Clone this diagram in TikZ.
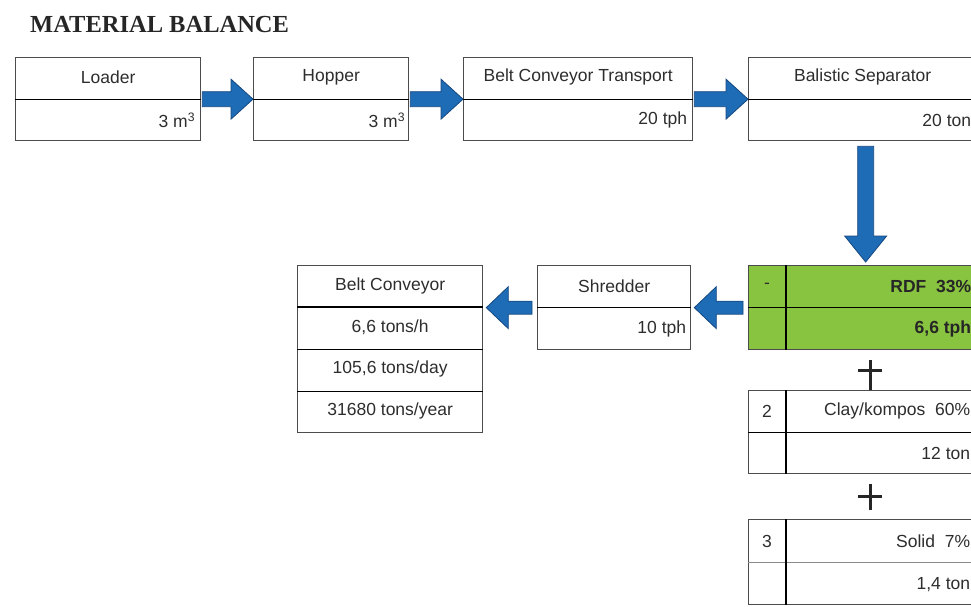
\documentclass[tikz,border=0pt]{standalone}
\usepackage{fontspec}
\setmainfont{Liberation Sans}
\newfontfamily\titlefont{Liberation Serif}
\usetikzlibrary{calc}
\definecolor{arrowblue}{RGB}{30,108,182}
\definecolor{arrowdark}{RGB}{22,72,128}
\definecolor{rdfgreen}{RGB}{137,196,64}
\definecolor{txt}{RGB}{45,45,45}
\tikzset{
  box/.style={draw=black!70, line width=1.3pt, rectangle, inner sep=0pt, anchor=north west},
  midline/.style={draw=black, line width=1.3pt},
  thinline/.style={draw=black!45, line width=0.7pt},
  lbl/.style={font=\fontsize{17.5}{20}\selectfont, text=txt, inner sep=0pt},
  blbl/.style={font=\fontsize{17.5}{20}\selectfont\bfseries, text=black!85, inner sep=0pt},
  barrow/.style={fill=arrowblue, draw=arrowdark, line width=0.8pt},
  plusline/.style={draw=black!85, line width=3pt}
}
\begin{document}
\begin{tikzpicture}[x=1pt,y=-1pt]
\useasboundingbox (0,0) rectangle (971,606);
% title
\node[anchor=base west, inner sep=0pt, font=\titlefont\fontsize{24.5}{28}\selectfont\bfseries, text=black!85] (title) at (30,32) {MATERIAL BALANCE};

% row 1 boxes
\node[box, minimum width=185, minimum height=83] (loader) at (15,57) {};
\node[box, minimum width=155, minimum height=83] (hopper) at (253,57) {};
\node[box, minimum width=229, minimum height=83] (belt) at (463,57) {};
\node[box, minimum width=228, minimum height=83] (sep) at (748,57) {};
\foreach \b in {loader,hopper,belt,sep} {\draw[midline] (\b.west) -- (\b.east);}
\node[lbl] (loaderT) at ([yshift=-20]loader.north) {Loader};
\node[lbl, anchor=east] (loaderV) at ([xshift=-6,yshift=21]loader.south east) {3 m\textsuperscript{3}};
\node[lbl] (hopperT) at ([yshift=-20]hopper.north) {Hopper};
\node[lbl, anchor=east] (hopperV) at ([xshift=-4,yshift=21]hopper.south east) {3 m\textsuperscript{3}};
\node[lbl] (beltT) at ([yshift=-20]belt.north) {Belt Conveyor Transport};
\node[lbl, anchor=east] (beltV) at ([xshift=-6,yshift=21]belt.south east) {20 tph};
\node[lbl] (sepT) at ([yshift=-20]sep.north) {Balistic Separator};
\node[lbl, anchor=east] (sepV) at ([xshift=-6,yshift=21]sep.south east) {20 ton};

% right arrows
\foreach \a/\b in {loader/hopper,hopper/belt,belt/sep} {
  \path[barrow] ($(\a.east)+(1,-7.5)$) -- ($(\b.west)+(-22,-7.5)$) -- ($(\b.west)+(-22,-20)$) -- (\b.west)
    -- ($(\b.west)+(-22,20)$) -- ($(\b.west)+(-22,7.5)$) -- ($(\a.east)+(1,7.5)$) -- cycle;
}

% row 2
\node[box, fill=rdfgreen, minimum width=228, minimum height=84] (rdf) at (748,265) {};
\node[box, minimum width=153, minimum height=84] (shred) at (537,265) {};
\node[box, minimum width=185, minimum height=167] (bconv) at (297,265) {};
\draw[midline] (rdf.west) -- (rdf.east);
\draw[midline] ([xshift=38]rdf.north west) -- ([xshift=38]rdf.south west);
\draw[midline] (shred.west) -- (shred.east);
\draw[midline] ($(bconv.north west)!0.25!(bconv.south west)$) -- ($(bconv.north east)!0.25!(bconv.south east)$);
\draw[midline] (bconv.west) -- (bconv.east);
\draw[midline] ($(bconv.north west)!0.75!(bconv.south west)$) -- ($(bconv.north east)!0.75!(bconv.south east)$);

\node[lbl] (rdfN) at ($(rdf.north west)+(19,21)$) {-};
\node[blbl, anchor=east] (rdfT) at ($(rdf.north east)+(-6,21)$) {RDF\ \ 33\%};
\node[blbl, anchor=east] (rdfV) at ($(rdf.south east)+(-6,-21)$) {6,6 tph};
\node[lbl] (shredT) at ([yshift=-21]shred.north) {Shredder};
\node[lbl, anchor=east] (shredV) at ($(shred.south east)+(-5,-21)$) {10 tph};
\node[lbl] (bc1) at ([yshift=-21]bconv.north) {Belt Conveyor};
\node[lbl] (bc2) at ([yshift=-62]bconv.north) {6,6 tons/h};
\node[lbl] (bc3) at ([yshift=-104]bconv.north) {105,6 tons/day};
\node[lbl] (bc4) at ([yshift=-146]bconv.north) {31680 tons/year};

% down arrow
\coordinate (dtop) at ($(sep.south)+(3,5)$);
\coordinate (dtip) at ($(rdf.north)+(3,-3)$);
\path[barrow] ($(dtop)+(-8,0)$) -- ($(dtip)+(-8,-26)$) -- ($(dtip)+(-21,-26)$) -- (dtip)
  -- ($(dtip)+(21,-26)$) -- ($(dtip)+(8,-26)$) -- ($(dtop)+(8,0)$) -- cycle;

% left arrows
\foreach \a/\b in {rdf/shred,shred/bconv} {
  \coordinate (ls) at ($(\a.west)+(-5,0)$);
  \coordinate (lt) at ($(\b.east |- \a.west)+(3,0)$);
  \path[barrow] ($(ls)+(0,-6.5)$) -- ($(lt)+(22,-6.5)$) -- ($(lt)+(22,-21)$) -- (lt)
    -- ($(lt)+(22,21)$) -- ($(lt)+(22,6.5)$) -- ($(ls)+(0,6.5)$) -- cycle;
}

% clay and solid
\node[box, minimum width=228, minimum height=83] (clay) at (748,390) {};
\draw[midline] (clay.west) -- (clay.east);
\draw[midline] ([xshift=38]clay.north west) -- ([xshift=38]clay.south west);
\node[lbl] (clayN) at ($(clay.north west)+(19,21)$) {2};
\node[lbl, anchor=east] (clayT) at ($(clay.north east)+(-7,21)$) {Clay/kompos\ \ 60\%};
\node[lbl, anchor=east] (clayV) at ($(clay.south east)+(-7,-21)$) {12 ton};

\node[box, minimum width=228, minimum height=85] (solid) at (748,519) {};
\draw[thinline] (solid.west) -- (solid.east);
\draw[midline] ([xshift=38]solid.north west) -- ([xshift=38]solid.south west);
\node[lbl] (solidN) at ($(solid.north west)+(19,22)$) {3};
\node[lbl, anchor=east] (solidT) at ($(solid.north east)+(-7,22)$) {Solid\ \ 7\%};
\node[lbl, anchor=east] (solidV) at ($(solid.south east)+(-7,-21)$) {1,4 ton};

% plus signs
\coordinate (p1) at ($(rdf.south west)!0.5!(clay.north west) + (122,0)$);
\draw[plusline] ([xshift=-12]p1) -- ([xshift=12]p1);
\draw[plusline] ([yshift=10]p1) -- (p1 |- clay.north);
\coordinate (p2) at ($(clay.south west)!0.5!(solid.north west) + (122,0)$);
\draw[plusline] ([xshift=-12]p2) -- ([xshift=12]p2);
\draw[plusline] ([yshift=13]p2) -- ([yshift=-13]p2);
\end{tikzpicture}
\end{document}
